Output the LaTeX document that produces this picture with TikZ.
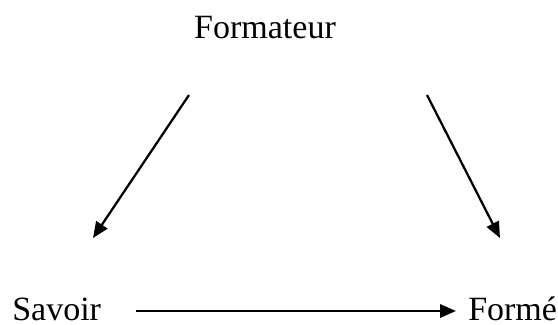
\documentclass[tikz,border=0pt]{standalone}
\usepackage{fontspec}
\setmainfont{Liberation Serif}
\usetikzlibrary{arrows.meta}

\begin{document}
\begin{tikzpicture}[x=0.75pt, y=-0.75pt,
    lbl/.style={inner sep=0pt, font=\fontsize{25.5}{30}\selectfont},
    arr/.style={-{Triangle[length=12pt, width=10pt]}, line width=1.7pt}]
    \useasboundingbox (0,0) rectangle (558,325);

    % Formateur
    \node[lbl, anchor=base] (formateur) at (265,38) {Formateur};

    % Savoir
    \node[lbl, anchor=base west] (savoir) at (12,320) {Savoir};

    % Forme
    \node[lbl, anchor=base west] (forme) at (468,320) {Formé};

    % arrow ends
    \coordinate (fl) at (189,95);
    \coordinate (sl) at (93,238);
    \coordinate (fr) at (427,95);
    \coordinate (sr) at (500,238);
    \coordinate (hs) at (136,311);
    \coordinate (he) at (456,311);

    \draw[arr] (fl) -- (sl);
    \draw[arr] (fr) -- (sr);
    \draw[arr] (hs) -- (he);
\end{tikzpicture}
\end{document}
